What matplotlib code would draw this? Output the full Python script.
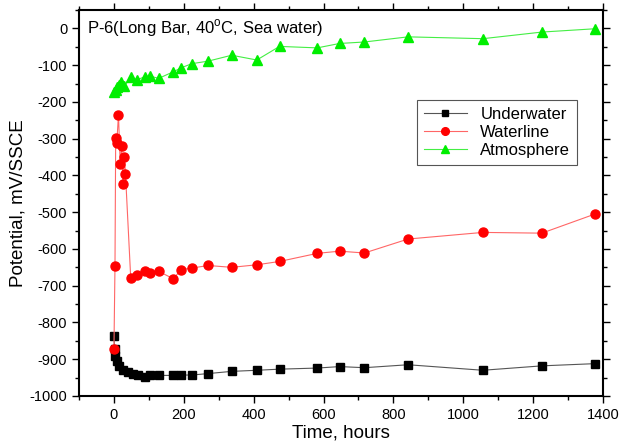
import numpy as np
from matplotlib import pyplot as plt

plt.rcParams['font.family'] = ['Liberation Sans', 'DejaVu Sans']
plt.rcParams['axes.unicode_minus'] = False

# Underwater
t_under = [0, 2, 4, 8, 15, 25, 40, 55, 70, 90, 104, 128, 170, 193, 223, 270,
           337, 410, 474, 582, 646, 717, 842, 1056, 1225, 1377]
v_under = [-837, -872, -892, -906, -919, -929, -936, -941, -944, -947, -944, -944,
           -944, -943, -943, -939, -933, -930, -927, -924, -920, -923, -915, -930,
           -918, -912]

# Waterline
t_water = [0, 3, 5, 8, 13, 18, 22, 26, 30, 33, 48, 65, 90, 104, 128, 170, 193,
           223, 270, 337, 410, 474, 582, 646, 717, 842, 1056, 1225, 1377]
v_water = [-872, -647, -298, -313, -235, -370, -319, -424, -350, -395, -678, -670,
           -659, -666, -661, -681, -656, -652, -645, -650, -643, -634, -612, -606,
           -611, -573, -555, -557, -505]

# Atmosphere
t_atm = [0, 5, 10, 15, 20, 30, 48, 65, 90, 104, 128, 170, 193, 223, 270, 337,
         409, 474, 582, 646, 717, 842, 1056, 1225, 1377]
v_atm = [-172, -168, -160, -155, -147, -157, -133, -140, -131, -130, -136, -118,
         -107, -96, -89, -73, -86, -49, -53, -41, -37, -23, -28, -10, -1]

fig = plt.figure(figsize=(6.29, 4.47), dpi=100)
ax = fig.add_axes([0.1256, 0.1141, 0.8331, 0.8635])

ax.plot(t_under, v_under, color='#555555', lw=0.8, marker='s', ms=5.5,
        mfc='black', mec='black', label='Underwater')
ax.plot(t_water, v_water, color='#ff6666', lw=0.8, marker='o', ms=6.5,
        mfc='red', mec='red', label='Waterline')
ax.plot(t_atm, v_atm, color='#44ee44', lw=0.8, marker='^', ms=7,
        mfc='#00ee00', mec='#00ee00', label='Atmosphere')

ax.set_xlim(-100, 1400)
ax.set_ylim(-1000, 50)
ax.set_xticks(np.arange(0, 1401, 200))
ax.set_xticks(np.arange(-100, 1401, 100), minor=True)
ax.set_yticks(np.arange(-1000, 1, 100))
ax.set_yticks(np.arange(-1000, 51, 50), minor=True)
ax.tick_params(which='both', direction='out', top=True, right=True, labelsize=10.5)
ax.tick_params(which='major', length=5, width=1)
ax.tick_params(which='minor', length=3, width=1)
for s in ax.spines.values():
    s.set_linewidth(1.5)

ax.set_xlabel('Time, hours', fontsize=13.5, labelpad=2)
ax.set_ylabel('Potential, mV/SSCE', fontsize=13.5, labelpad=2)

ax.text(0.015, 0.953, 'P-6(Long Bar, 40$^\\mathregular{o}$C, Sea water)',
        transform=ax.transAxes, fontsize=12, va='center', ha='left')

leg = ax.legend(loc='upper left', bbox_to_anchor=(0.645, 0.767), borderaxespad=0,
                fontsize=12, fancybox=False, edgecolor='#555555', handlelength=2.6,
                labelspacing=0.2, framealpha=1, markerscale=0.85)
leg.get_frame().set_linewidth(0.8)

plt.savefig('out.png', dpi=100)
